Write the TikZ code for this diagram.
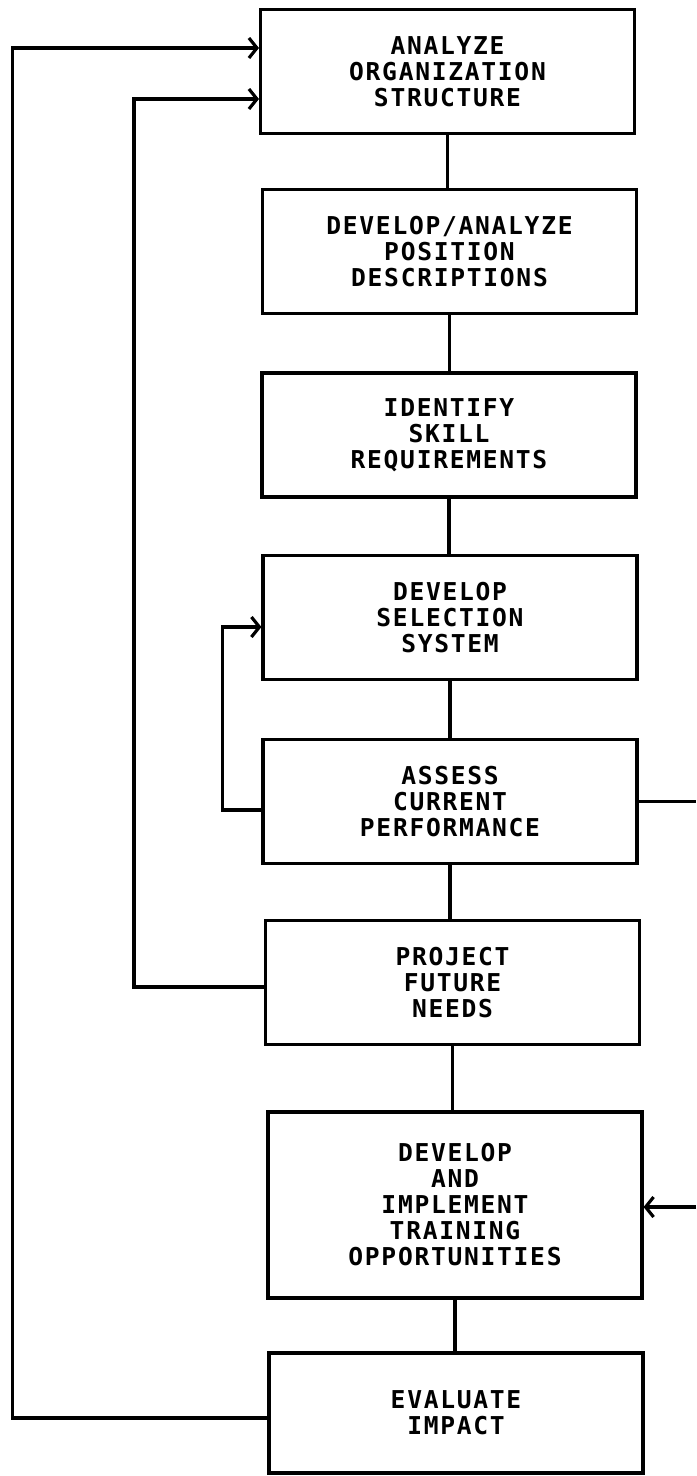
\documentclass[tikz,border=0pt]{standalone}
\usepackage{fontspec}
\newfontfamily\boxfont{DejaVu Sans Mono}[LetterSpace=7]
\usetikzlibrary{arrows.meta}

\begin{document}
\begin{tikzpicture}[x=0.02cm,y=-0.02cm,
  boite/.style={draw, line width=1.8pt, minimum width=\largeur, minimum height=\hauteur,
    inner sep=0pt, align=center, font=\boxfont\bfseries\fontsize{14pt}{14.8pt}\selectfont},
  trait/.style={line width=1.8pt},
  fleche/.style={line width=1.8pt, -{Straight Barb[length=1.6mm,width=4mm]}}]
\def\largeur{7.48cm}
\def\hauteur{2.48cm}
\useasboundingbox (0,0) rectangle (696,1476);

% les huit étapes
\node[boite] (organisation) at (447.5,71.5) {ANALYZE\\ORGANIZATION\\STRUCTURE};
\node[boite] (postes) at (449.5,251.5) {DEVELOP/ANALYZE\\POSITION\\DESCRIPTIONS};
\node[boite] (competences) at (449,435) {IDENTIFY\\SKILL\\REQUIREMENTS};
\node[boite] (selection) at (450,617.5) {DEVELOP\\SELECTION\\SYSTEM};
\node[boite] (performance) at (450,801.5) {ASSESS\\CURRENT\\PERFORMANCE};
\node[boite] (besoins) at (452.5,982.5) {PROJECT\\FUTURE\\NEEDS};
\node[boite, minimum height=3.72cm] (formation) at (455,1205) {DEVELOP\\AND\\IMPLEMENT\\TRAINING\\OPPORTUNITIES};
\node[boite, minimum height=2.4cm] (impact) at (456,1413) {EVALUATE\\IMPACT};

% liens verticaux
\foreach \a/\b in {organisation/postes, postes/competences, competences/selection,
  selection/performance, performance/besoins, besoins/formation, formation/impact} {
  \draw[trait] (\a.south) -- (\a.south |- \b.north);
}

% boucles de retour à gauche
\draw[fleche] ([yshift=-0.17cm]performance.west) -- ++(-39,0) |- ([yshift=-0.19cm]selection.west);
\draw[fleche] ([yshift=-0.09cm]besoins.west) -- ++(-130,0) |- ([yshift=-0.55cm]organisation.west);
\draw[fleche] ([yshift=-0.1cm]impact.west) -- ++(-255,0) |- ([yshift=0.47cm]organisation.west);

% lignes coupées au bord droit
\coordinate (bordA) at (696,803);
\coordinate (bordB) at (696,1207);
\draw[trait] (performance.east) -- (performance.east -| bordA);
\draw[fleche] (bordB) -- (formation.east |- bordB);
\end{tikzpicture}
\end{document}
